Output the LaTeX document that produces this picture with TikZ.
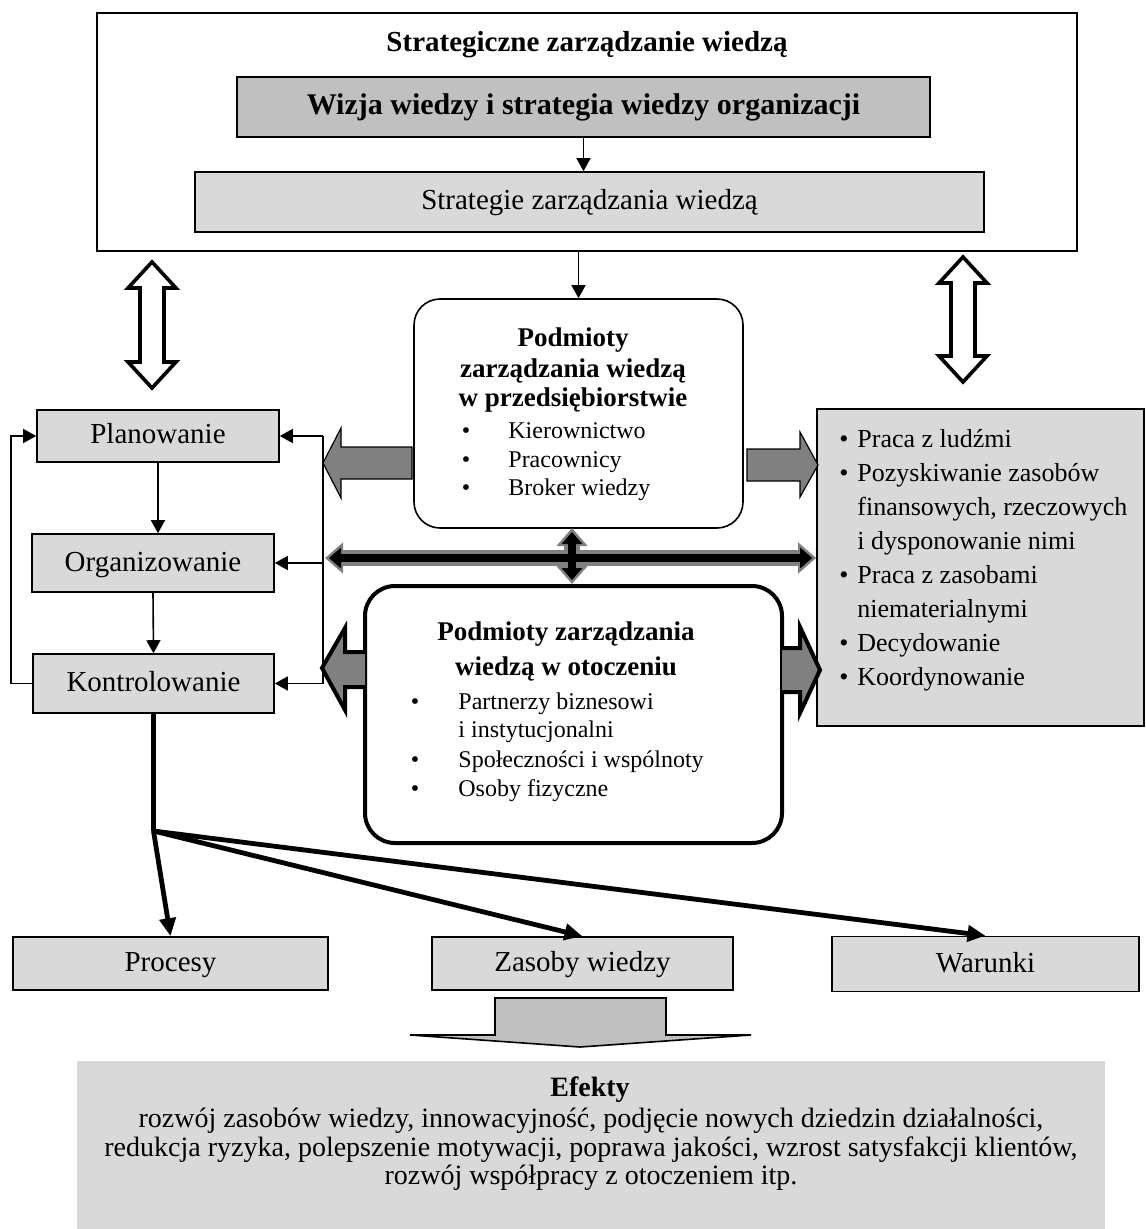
\documentclass[tikz,border=0pt]{standalone}
\usepackage{fontspec}
\setmainfont{Liberation Serif}
\usetikzlibrary{arrows.meta}
\definecolor{boxgray}{HTML}{D9D9D9}
\definecolor{headgray}{HTML}{C0C0C0}
\definecolor{arrgray}{HTML}{808080}

\begin{document}
\begin{tikzpicture}[x=0.5pt, y=-0.5pt, >={Triangle[length=6.5pt,width=7pt]},
  box/.style={draw, fill=boxgray, line width=0.8pt, inner sep=0pt, text height=10.5pt, text depth=2.5pt,
    font=\fontsize{14.5}{17}\selectfont},
  txt/.style={inner sep=0pt, anchor=base},
  thinline/.style={line width=0.8pt},
  fatarrow/.style={draw, fill=arrgray, line width=0.6pt},
  fatarrowb/.style={draw, fill=arrgray, line width=2pt, line join=miter},
  hollow/.style={draw, fill=white, line width=1.8pt, line join=miter},
  thickarr/.style={line width=2.4pt, -{Triangle[length=9pt,width=8pt]}}]
  % Define sizes
  \def\itemfont{\fontsize{12}{14}\selectfont}
  \def\listfont{\fontsize{13}{16}\selectfont}
  \useasboundingbox (0,0) rectangle (1145,1229);

  % --- Strategic level ---
  \node[draw, line width=0.6pt, minimum width=490pt, minimum height=119pt, inner sep=0pt] (strat) at (587,132) {};
  \node[font=\bfseries\fontsize{14.5}{17}\selectfont] (stratT) at (587,45) {Strategiczne zarządzanie wiedzą};
  \node[box, fill=headgray, minimum width=346.5pt, minimum height=30pt, font=\bfseries\fontsize{15}{18}\selectfont] (wizja) at (583.5,107) {Wizja wiedzy i strategia wiedzy organizacji};
  \node[box, minimum width=394.5pt, minimum height=30pt] (strateg) at (589.5,202) {Strategie zarządzania wiedzą};
  \draw[->, thinline] (wizja.south) -- (wizja.south |- strateg.north);

  % hollow double arrows
  \draw[hollow] (152,262) -- (176,288) -- (164,288) -- (164,362) -- (176,362) -- (152,388)
    -- (128,362) -- (140,362) -- (140,288) -- (128,288) -- cycle;
  \draw[hollow] (963,257) -- (987,283) -- (975,283) -- (975,356) -- (987,356) -- (963,382)
    -- (939,356) -- (951,356) -- (951,283) -- (939,283) -- cycle;

  % --- Podmioty w przedsiebiorstwie ---
  \node[draw, line width=0.8pt, rounded corners=13pt, minimum width=164.5pt, minimum height=114.5pt] (podm) at (578.5,413.5) {};
  \draw[->, thinline] (podm.north |- strat.south) -- (podm.north);
  \foreach \y/\t [count=\i] in {347/Podmioty, 378/zarządzania wiedzą, 407/w przedsiębiorstwie}
    \node[txt, font=\bfseries\fontsize{13.5}{16}\selectfont] (podmT\i) at (573,\y) {\t};
  \foreach \y/\t [count=\i] in {438/Kierownictwo, 467/Pracownicy, 495/Broker wiedzy} {
    \node[txt, font=\itemfont] (podmB\i) at (466,\y) {\textbullet};
    \node[txt, anchor=base west, font=\itemfont] (podmI\i) at (508,\y) {\t};
  }

  % --- Functions ---
  \node[box, minimum width=121pt, minimum height=26pt] (plan) at (158,436) {Planowanie};
  \node[box, minimum width=121pt, minimum height=29pt] (org) at (153,563) {Organizowanie};
  \node[box, minimum width=120.5pt, minimum height=29.5pt] (kontr) at (153.5,683.5) {Kontrolowanie};
  \draw[->, thinline] (plan.south) -- (plan.south |- org.north);
  \draw[->, thinline] (org.south) -- (kontr.north);
  \draw[->, thinline] (kontr.west) -- ++(-21,0) |- (plan.west);

  \coordinate (busP) at (323,436);
  \coordinate (busO) at (323,563);
  \coordinate (busK) at (323,683.5);
  \draw[thinline] (busP) -- (busK);
  \draw[->, thinline] (busP) -- (plan.east);
  \draw[->, thinline] (busO) -- (org.east);
  \draw[->, thinline] (busK) -- (kontr.east);

  % --- Right box ---
  \node[box, minimum width=163.5pt, minimum height=158.5pt] (dz) at (980.5,567.5) {};
  \foreach \t/\b [count=\i] in {Praca z ludźmi/1, Pozyskiwanie zasobów/1, {finansowych, rzeczowych}/0,
      i dysponowanie nimi/0, Praca z zasobami/1, niematerialnymi/0, Decydowanie/1, Koordynowanie/1} {
    \node[txt, anchor=base west, font=\listfont] (dzI\i) at (857,447+34*\i-34) {\t};
    \ifnum\b=1 \node[txt, font=\listfont] (dzB\i) at (844,447+34*\i-34) {\textbullet}; \fi
  }

  % --- Podmioty w otoczeniu ---
  \node[draw, line width=2pt, rounded corners=15pt, minimum width=208.5pt, minimum height=128.5pt] (po) at (573.5,714.5) {};
  \foreach \y/\t [count=\i] in {640/Podmioty zarządzania, 675/wiedzą w otoczeniu}
    \node[txt, font=\bfseries\fontsize{13.5}{16}\selectfont] (poT\i) at (566,\y) {\t};
  \foreach \y/\t/\b [count=\i] in {709/Partnerzy biznesowi/1, 737/i instytucjonalni/0,
      767/Społeczności i wspólnoty/1, 796/Osoby fizyczne/1} {
    \node[txt, anchor=base west, font=\itemfont] (poI\i) at (458,\y) {\t};
    \ifnum\b=1 \node[txt, font=\itemfont] (poB\i) at (415,\y) {\textbullet}; \fi
  }

  % gray block arrows
  \draw[fatarrow] (412,447) -- (341,447) -- (341,428) -- (323,463) -- (341,498) -- (341,479) -- (412,479) -- cycle;
  \draw[fatarrow] (747,449) -- (800,449) -- (800,432) -- (818,465) -- (800,497) -- (800,481) -- (747,481) -- cycle;
  \draw[fatarrowb] (365,652) -- (345,652) -- (345,628) -- (322,668) -- (345,710) -- (345,687) -- (365,687);
  \draw[fatarrowb] (782,648) -- (800,648) -- (800,627) -- (820,670) -- (800,713) -- (800,692) -- (782,692);

  % cross arrow
  \coordinate (crossL) at (325,558);
  \coordinate (crossT) at (572,528);
  \draw[arrgray, line width=8pt, {Triangle[length=9pt,width=15pt]}-{Triangle[length=9pt,width=15pt]}] (crossL) -- (crossL -| dz.west);
  \draw[arrgray, line width=8pt, {Triangle[length=9pt,width=15pt]}-{Triangle[length=9pt,width=15pt]}] (crossT) -- (crossT |- po.north);
  \draw[black, line width=4pt, shorten <=2pt, shorten >=2pt, {Triangle[length=6pt,width=10pt]}-{Triangle[length=6pt,width=10pt]}] (crossL) -- (crossL -| dz.west);
  \draw[black, line width=4pt, shorten <=2pt, shorten >=2pt, {Triangle[length=6pt,width=10pt]}-{Triangle[length=6pt,width=10pt]}] (crossT) -- (crossT |- po.north);

  % --- Results ---
  \node[box, minimum width=157.5pt, minimum height=26.5pt] (proc) at (170.5,963.5) {Procesy};
  \node[box, minimum width=150.5pt, minimum height=26.5pt] (zas) at (582.5,963.5) {Zasoby wiedzy};
  \node[box, minimum width=153.5pt, minimum height=27.5pt] (war) at (985.5,964) {Warunki};
  \coordinate (split) at (153.5,831);
  \draw[line width=2.4pt] (kontr.south) -- (split);
  \draw[thickarr] (split) -- (proc.north);
  \draw[thickarr] (split) -- (zas.north);
  \draw[thickarr] (split) -- (war.north);

  % big arrow and Efekty
  \draw[fill=headgray, line width=0.8pt] (495,998) -- (666,998) -- (666,1035) -- (751,1035) -- (580,1047) -- (410,1035) -- (495,1035) -- cycle;
  \node[fill=boxgray, minimum width=514pt, minimum height=84pt, inner sep=0pt] (efekty) at (591,1145) {};
  \node[txt, font=\bfseries\fontsize{14}{17}\selectfont] (efT) at (590,1096) {Efekty};
  \foreach \y/\t [count=\i] in {1127/{rozwój zasobów wiedzy, innowacyjność, podjęcie nowych dziedzin działalności,},
      1156/{redukcja ryzyka, polepszenie motywacji, poprawa jakości, wzrost satysfakcji klientów,},
      1184/{rozwój współpracy z otoczeniem itp.}}
    \node[txt, font=\fontsize{14}{17}\selectfont] (efL\i) at (591,\y) {\t};

\end{tikzpicture}
\end{document}
